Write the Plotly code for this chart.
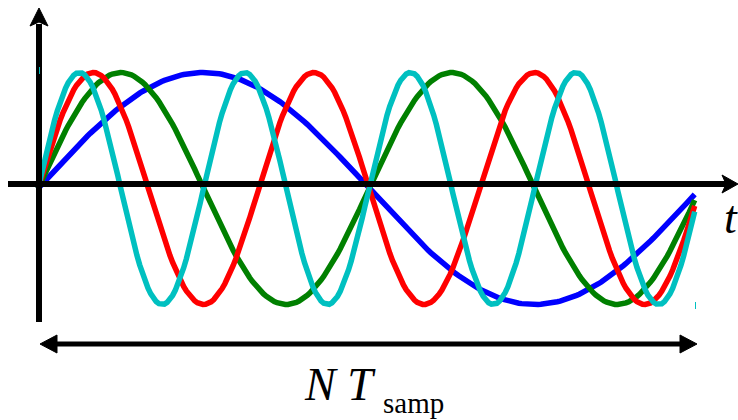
import numpy as np
import plotly.graph_objects as go

# Harmonic components shown over one record of length N*T_samp
cycles = [1, 2, 3, 4]
colors = ["#0000FF", "#008000", "#FF0000", "#00C0C0"]
n_points = 240
t_end = 0.992          # last sample sits just before the end of the record

W, H = 738, 420
# pixel layout of the drawing
X0_PX, PERIOD_PX = 38, 662      # t = 0 and record length in px
Y0_PX, AMP_PX = 188.5, 116      # curve centre and unit amplitude in px

def px2x(px):
    return (px - X0_PX) / PERIOD_PX

def px2y(py):
    return (Y0_PX - py) / AMP_PX

fig = go.Figure()

t = np.linspace(0.0, t_end, n_points)
for k, c in zip(cycles, colors):
    fig.add_trace(go.Scatter(
        x=t, y=np.sin(2 * np.pi * k * t), mode="lines",
        line=dict(color=c, width=5.5), hoverinfo="skip", showlegend=False))

def seg(x0, y0, x1, y1, width, color="black"):
    fig.add_trace(go.Scatter(
        x=[px2x(x0), px2x(x1)], y=[px2y(y0), px2y(y1)], mode="lines",
        line=dict(color=color, width=width), hoverinfo="skip", showlegend=False))

def head(pts):
    xs = [px2x(p[0]) for p in pts] + [px2x(pts[0][0])]
    ys = [px2y(p[1]) for p in pts] + [px2y(pts[0][1])]
    fig.add_trace(go.Scatter(
        x=xs, y=ys, mode="lines", fill="toself", fillcolor="black",
        line=dict(color="black", width=1), hoverinfo="skip", showlegend=False))

# vertical axis with arrow
seg(39, 322, 39, 24, 6)
head([(39, 8), (48, 26), (39, 22), (30, 26)])
# time axis with arrow
seg(8, 184, 726, 184, 6)
head([(738, 184), (722, 175), (726, 184), (722, 193)])
# record length arrow
seg(54, 344, 683, 344, 5)
head([(40, 344), (57, 335), (57, 353)])
head([(697, 344), (680, 335), (680, 353)])

# small leftover marks
seg(39.5, 67, 39.5, 74, 1, "#00C0C0")
seg(695.5, 302, 695.5, 309, 1, "#00C0C0")

font = "Liberation Serif, Times New Roman, serif"
fig.add_annotation(x=px2x(722), y=px2y(217), text="<i>t</i>", showarrow=False,
                   xanchor="left", yanchor="middle",
                   font=dict(family=font, size=46, color="black"))
fig.add_annotation(x=px2x(302), y=px2y(384), text="<i>N T</i>", showarrow=False,
                   xanchor="left", yanchor="middle",
                   font=dict(family=font, size=46, color="black"))
fig.add_annotation(x=px2x(381), y=px2y(403), text="samp", showarrow=False,
                   xanchor="left", yanchor="middle",
                   font=dict(family=font, size=29, color="black"))

fig.update_layout(
    width=W, height=H, margin=dict(l=0, r=0, t=0, b=0),
    paper_bgcolor="white", plot_bgcolor="white",
    xaxis=dict(range=[px2x(0), px2x(W)], visible=False, fixedrange=True),
    yaxis=dict(range=[px2y(H), px2y(0)], visible=False, fixedrange=True),
)

fig.write_html("out.html", config={"displayModeBar": False})
